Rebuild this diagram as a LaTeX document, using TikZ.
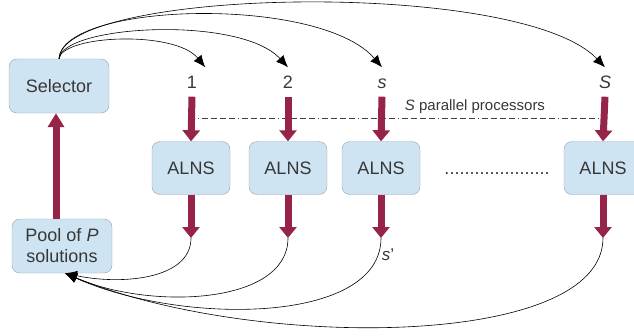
\documentclass[tikz,border=0pt]{standalone}
\usepackage{fontspec}
\setmainfont{Liberation Sans}
\usetikzlibrary{arrows.meta}
\definecolor{boxfill}{RGB}{207,228,242}
\definecolor{boxline}{RGB}{150,162,172}
\definecolor{fatred}{RGB}{150,35,72}
\definecolor{txt}{RGB}{55,55,55}
\tikzset{
  procbox/.style={draw=boxline, fill=boxfill, rounded corners=8pt, text=txt, font=\fontsize{18}{21}\selectfont},
  fatarrow/.style={fatred, line width=7pt, -{Triangle[length=11pt,width=17pt]}},
  thinarrow/.style={black, line width=0.6pt, -{Latex[length=12pt,width=10pt]}},
  numlabel/.style={text=txt, font=\fontsize{18}{21}\selectfont, inner sep=8pt, text height=13pt, text depth=0pt},
}
\begin{document}
\begin{tikzpicture}[x=1pt, y=-1pt]
        \useasboundingbox (0,0) rectangle (634,335);
        % boxes
        \node[procbox, minimum width=100pt, minimum height=54pt] (sel) at (59,86) {Selector};
        \node[procbox, minimum width=100pt, minimum height=54pt, align=center] (pool) at (62,246) {Pool of \textit{P}\\solutions};
        \node[procbox, minimum width=78pt, minimum height=53pt] (a1) at (191,168) {ALNS};
        \node[procbox, minimum width=78pt, minimum height=53pt] (a2) at (288,168) {ALNS};
        \node[procbox, minimum width=78pt, minimum height=53pt] (as) at (381,168) {ALNS};
        \node[procbox, minimum width=78pt, minimum height=53pt] (aS) at (603,168) {ALNS};
        \node[text=txt, font=\fontsize{18}{21}\selectfont, anchor=base] (dots) at (497,174) {.....................};
        % processor numbers
        \node[numlabel] (l1) at (192,82) {1};
        \node[numlabel] (l2) at (288,82) {2};
        \node[numlabel] (ls) at (382,82) {\textit{s}};
        \node[numlabel] (lS) at (605,82) {\textit{S}};
        % parallel line
        \coordinate (dl) at (198,118);
        \coordinate (dr) at (600,118);
        \draw[black!75, line width=0.6pt, dash pattern=on 1pt off 3pt on 6pt off 3pt on 6pt off 3pt on 6pt off 3pt on 6pt off 3pt] (dl) -- (dr);
        \node[text=txt, font=\fontsize{15}{17}\selectfont] (par) at (475,107) {\textit{S} parallel processors};
        % fat arrows
        \draw[fatarrow, -{Triangle[length=14pt,width=16pt]}] ([xshift=-6pt]pool.north) -- ([xshift=-3pt]sel.south);
        \coordinate (e1) at (191,238);
        \coordinate (e2) at (288,238);
        \coordinate (es) at (381,238);
        \coordinate (eS) at (603,238);
        \draw[fatarrow] (l1.south) -- (a1.north);
        \draw[fatarrow] (l2.south) -- (a2.north);
        \draw[fatarrow] (ls.south) -- (as.north);
        \draw[fatarrow] (lS.south) -- (aS.north);
        \draw[fatarrow] (a1.south) -- (e1);
        \draw[fatarrow] (a2.south) -- (e2);
        \draw[fatarrow] (as.south) -- (es);
        \draw[fatarrow] (aS.south) -- (eS);
        \node[text=txt, font=\fontsize{17}{17}\selectfont] (sp) at (388,255) {\textit{s}'};
        % selector to processors
        \draw[thinarrow] (sel.north) .. controls (62,35) and (175,30) .. (l1.north east);
        \draw[thinarrow] (sel.north) .. controls (62,25) and (240,15) .. (l2.north);
        \draw[thinarrow] (sel.north) .. controls (62,2) and (320,-5) .. (ls.north);
        \draw[thinarrow] (sel.north) .. controls (62,-12) and (520,-22) .. (lS.north);
        % processors back to pool
        \draw[thinarrow] (e1) .. controls (191,280) and (120,285) .. ([xshift=3pt]pool.south);
        \draw[thinarrow] (e2) .. controls (288,305) and (150,310) .. ([xshift=3pt]pool.south);
        \draw[thinarrow] (es) .. controls (381,325) and (180,325) .. ([xshift=3pt]pool.south);
        \draw[thinarrow] (eS) .. controls (603,350) and (250,350) .. ([xshift=3pt]pool.south);
\end{tikzpicture}
\end{document}
